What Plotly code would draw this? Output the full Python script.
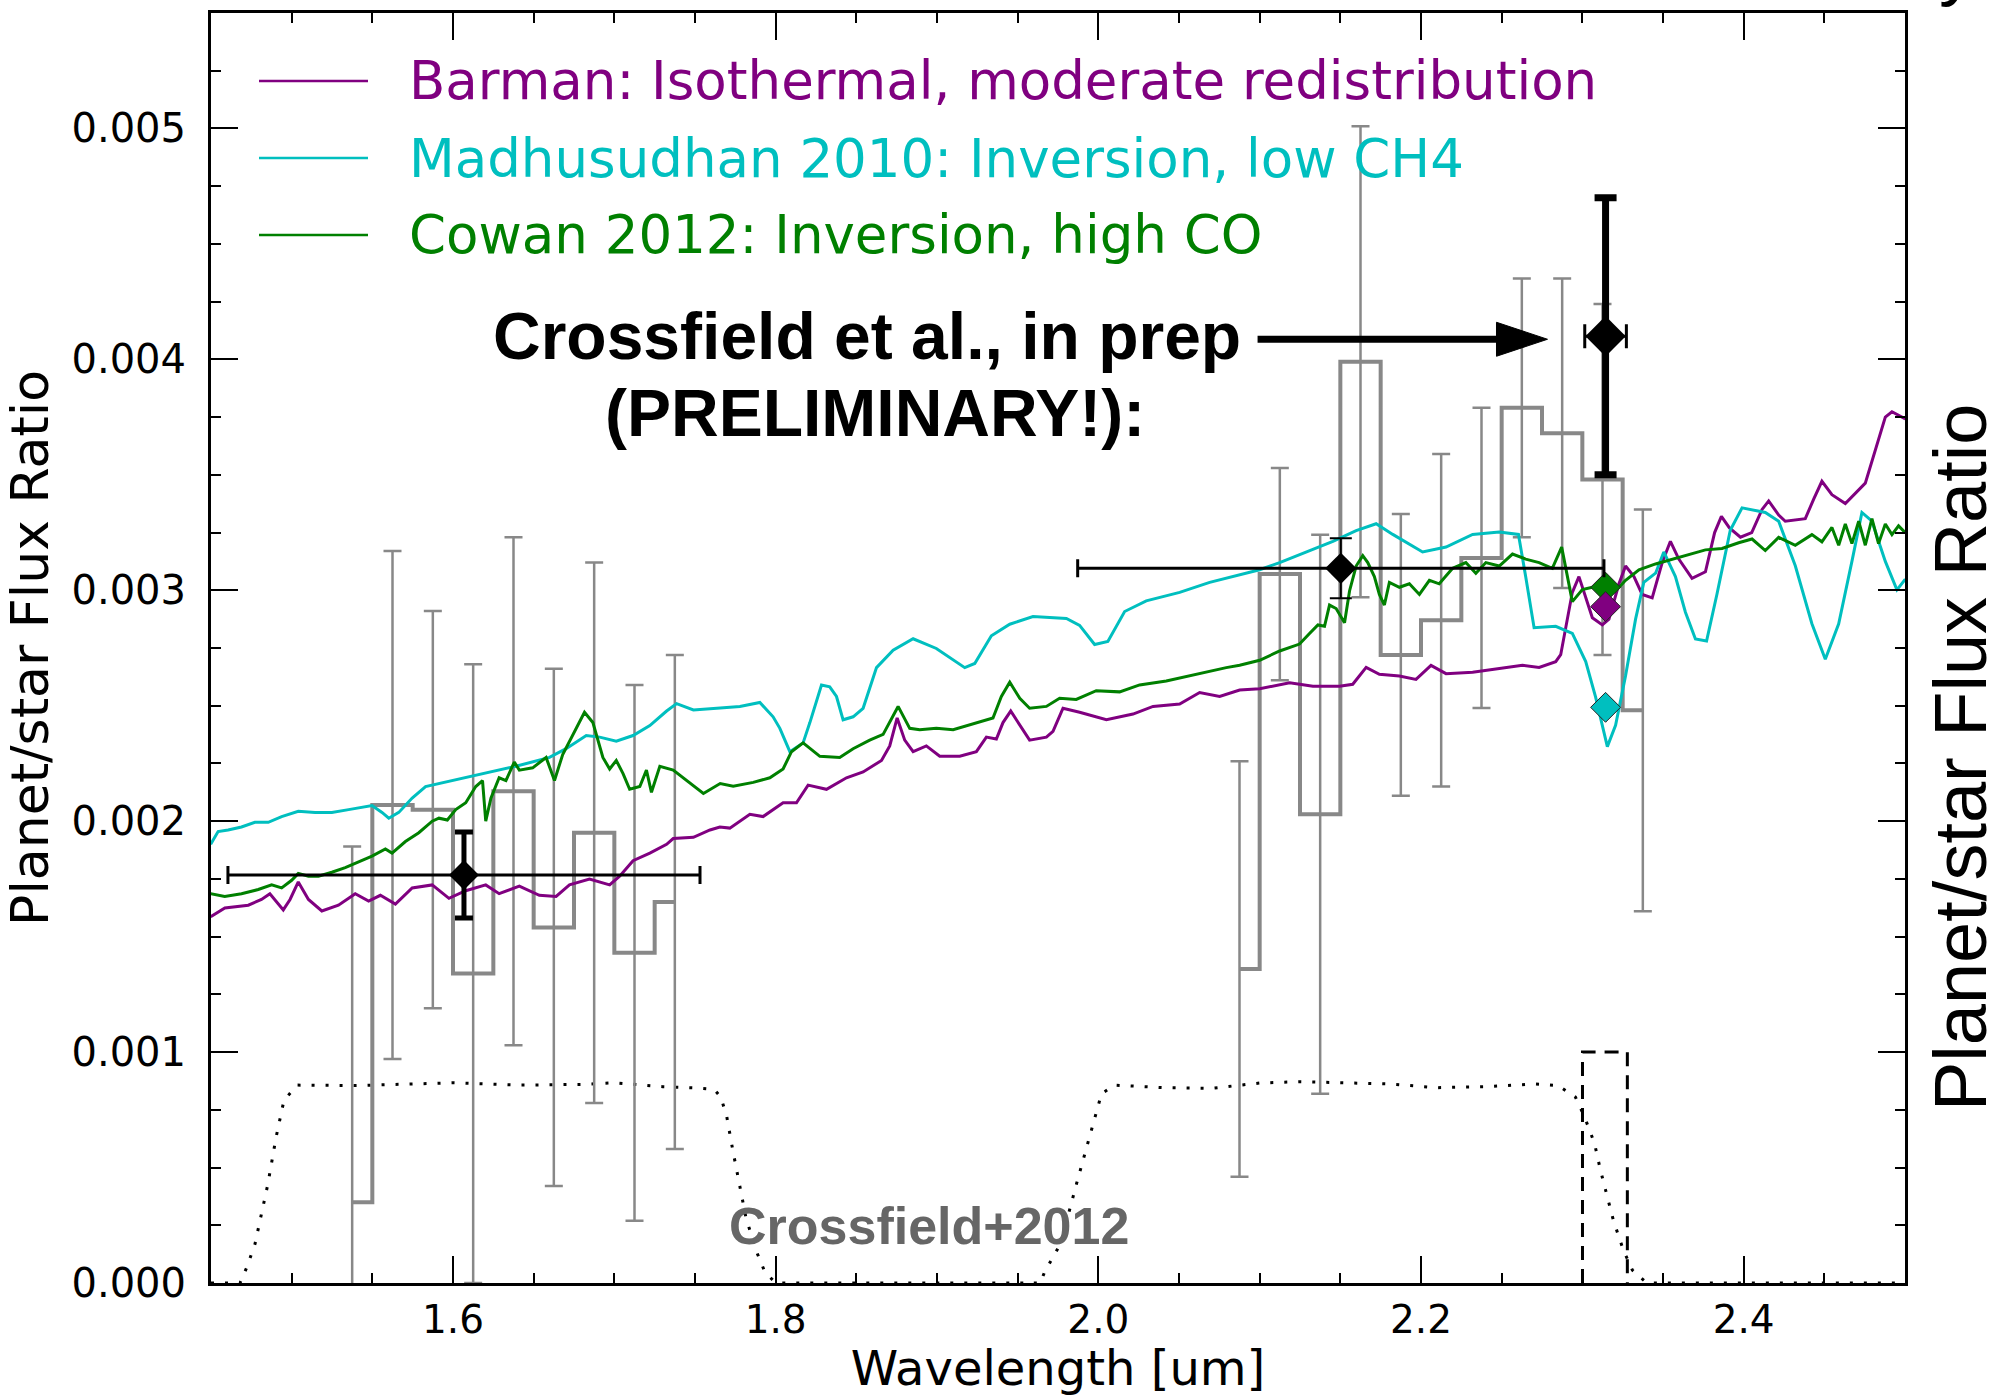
import plotly.graph_objects as go

# ---------------- data ----------------
# Barman: Isothermal, moderate redistribution
barman_wl = [1.4498, 1.4586, 1.4731, 1.4813, 1.4865, 1.4948, 1.4990, 1.5041, 1.5104, 1.5187, 1.5290, 1.5394,
             1.5477, 1.5550, 1.5643, 1.5747, 1.5871, 1.5975, 1.6079, 1.6203, 1.6286, 1.6411, 1.6535, 1.6639,
             1.6722, 1.6846, 1.6971, 1.7033, 1.7116, 1.7220, 1.7324, 1.7365, 1.7490, 1.7593, 1.7654, 1.7716,
             1.7840, 1.7922, 1.8046, 1.8129, 1.8201, 1.8315, 1.8439, 1.8542, 1.8656, 1.8707, 1.8753, 1.8800,
             1.8852, 1.8934, 1.9017, 1.9141, 1.9244, 1.9306, 1.9368, 1.9409, 1.9457, 1.9513, 1.9574, 1.9678,
             1.9719, 1.9781, 1.9884, 2.0050, 2.0215, 2.0339, 2.0504, 2.0628, 2.0752, 2.0876, 2.1000, 2.1186,
             2.1330, 2.1495, 2.1577, 2.1660, 2.1742, 2.1866, 2.1969, 2.2062, 2.2155, 2.2320, 2.2485, 2.2629,
             2.2732, 2.2835, 2.2866, 2.2907, 2.2938, 2.2979, 2.3021, 2.3062, 2.3124, 2.3165, 2.3227, 2.3268,
             2.3320, 2.3371, 2.3433, 2.3495, 2.3546, 2.3598, 2.3680, 2.3763, 2.3820, 2.3862, 2.3912, 2.3980,
             2.4050, 2.4114, 2.4155, 2.4217, 2.4258, 2.4382, 2.4434, 2.4485, 2.4547, 2.4630, 2.4754, 2.4816,
             2.4878, 2.4919, 2.5002]
barman_fr = [0.001586, 0.001624, 0.001636, 0.001661, 0.001686, 0.001616, 0.001661, 0.001737, 0.001661, 0.001611,
             0.001636, 0.001686, 0.001654, 0.001679, 0.001641, 0.001711, 0.001724, 0.001666, 0.001699, 0.001724,
             0.001686, 0.001719, 0.001679, 0.001674, 0.001724, 0.001749, 0.001724, 0.001762, 0.001829, 0.001862,
             0.001900, 0.001925, 0.001930, 0.001962, 0.001975, 0.001970, 0.002030, 0.002020, 0.002080, 0.002080,
             0.002156, 0.002138, 0.002188, 0.002213, 0.002263, 0.002326, 0.002447, 0.002351, 0.002301, 0.002326,
             0.002281, 0.002281, 0.002301, 0.002364, 0.002356, 0.002427, 0.002477, 0.002414, 0.002351, 0.002364,
             0.002389, 0.002489, 0.002472, 0.002439, 0.002464, 0.002497, 0.002507, 0.002557, 0.002540, 0.002568,
             0.002574, 0.002599, 0.002584, 0.002584, 0.002593, 0.002666, 0.002636, 0.002629, 0.002614, 0.002675,
             0.002639, 0.002645, 0.002660, 0.002675, 0.002666, 0.002691, 0.002721, 0.002875, 0.002991, 0.003059,
             0.002967, 0.002881, 0.002850, 0.002875, 0.003028, 0.003105, 0.003059, 0.002982, 0.002967, 0.003120,
             0.003212, 0.003135, 0.003052, 0.003080, 0.003250, 0.003320, 0.003270, 0.003230, 0.003250, 0.003350,
             0.003387, 0.003326, 0.003299, 0.003310, 0.003395, 0.003472, 0.003414, 0.003376, 0.003464, 0.003607,
             0.003750, 0.003773, 0.003742]

# Madhusudhan 2010: Inversion, low CH4
madhu_wl = [1.4498, 1.4544, 1.4606, 1.4689, 1.4772, 1.4855, 1.4938, 1.5041, 1.5145, 1.5249, 1.5353, 1.5498,
            1.5560, 1.5602, 1.5664, 1.5747, 1.5830, 1.5996, 1.6183, 1.6390, 1.6598, 1.6701, 1.6826, 1.6909,
            1.7012, 1.7116, 1.7220, 1.7324, 1.7386, 1.7490, 1.7656, 1.7778, 1.7902, 1.7984, 1.8026, 1.8088,
            1.8170, 1.8212, 1.8284, 1.8335, 1.8377, 1.8418, 1.8480, 1.8542, 1.8625, 1.8728, 1.8852, 1.8996,
            1.9172, 1.9234, 1.9337, 1.9451, 1.9595, 1.9802, 1.9884, 1.9977, 2.0059, 2.0163, 2.0297, 2.0504,
            2.0690, 2.0876, 2.1000, 2.1124, 2.1289, 2.1454, 2.1598, 2.1722, 2.1825, 2.2010, 2.2155, 2.2320,
            2.2485, 2.2604, 2.2649, 2.2701, 2.2835, 2.2938, 2.3021, 2.3082, 2.3155, 2.3206, 2.3268, 2.3330,
            2.3381, 2.3454, 2.3505, 2.3577, 2.3639, 2.3701, 2.3770, 2.3835, 2.3917, 2.3990, 2.4134, 2.4217,
            2.4320, 2.4423, 2.4506, 2.4589, 2.4671, 2.4733, 2.4795, 2.4878, 2.4950, 2.5002]
madhu_fr = [0.001900, 0.001955, 0.001962, 0.001975, 0.001995, 0.001995, 0.002020, 0.002043, 0.002038, 0.002038,
            0.002050, 0.002068, 0.002038, 0.002013, 0.002038, 0.002100, 0.002150, 0.002176, 0.002206, 0.002238,
            0.002276, 0.002314, 0.002371, 0.002364, 0.002346, 0.002371, 0.002414, 0.002477, 0.002509, 0.002482,
            0.002490, 0.002497, 0.002514, 0.002452, 0.002402, 0.002301, 0.002339, 0.002427, 0.002590, 0.002582,
            0.002540, 0.002439, 0.002452, 0.002489, 0.002665, 0.002740, 0.002790, 0.002748, 0.002665, 0.002683,
            0.002803, 0.002853, 0.002886, 0.002878, 0.002848, 0.002765, 0.002778, 0.002908, 0.002954, 0.002991,
            0.003034, 0.003065, 0.003089, 0.003120, 0.003166, 0.003212, 0.003258, 0.003288, 0.003242, 0.003166,
            0.003187, 0.003242, 0.003252, 0.003242, 0.003059, 0.002838, 0.002844, 0.002813, 0.002691, 0.002538,
            0.002323, 0.002415, 0.002630, 0.002875, 0.003034, 0.003074, 0.003166, 0.003059, 0.002905, 0.002789,
            0.002780, 0.002985, 0.003260, 0.003357, 0.003337, 0.003299, 0.003106, 0.002855, 0.002701, 0.002855,
            0.003125, 0.003337, 0.003299, 0.003125, 0.003002, 0.003048]

# Cowan 2012: Inversion, high CO
cowan_wl = [1.4498, 1.4585, 1.4689, 1.4793, 1.4876, 1.4938, 1.5000, 1.5041, 1.5104, 1.5166, 1.5249, 1.5332,
            1.5415, 1.5498, 1.5581, 1.5622, 1.5705, 1.5788, 1.5871, 1.5913, 1.5965, 1.6017, 1.6079, 1.6141,
            1.6183, 1.6203, 1.6235, 1.6286, 1.6328, 1.6380, 1.6411, 1.6494, 1.6577, 1.6629, 1.6680, 1.6743,
            1.6815, 1.6867, 1.6929, 1.6971, 1.7012, 1.7054, 1.7095, 1.7158, 1.7199, 1.7230, 1.7282, 1.7365,
            1.7448, 1.7552, 1.7656, 1.7737, 1.7861, 1.7964, 1.8046, 1.8098, 1.8170, 1.8274, 1.8397, 1.8480,
            1.8583, 1.8666, 1.8759, 1.8831, 1.8893, 1.8996, 1.9100, 1.9223, 1.9347, 1.9399, 1.9451, 1.9513,
            1.9574, 1.9678, 1.9760, 1.9863, 1.9987, 2.0132, 2.0256, 2.0421, 2.0545, 2.0669, 2.0793, 2.0876,
            2.1000, 2.1124, 2.1247, 2.1309, 2.1361, 2.1402, 2.1433, 2.1474, 2.1526, 2.1557, 2.1598, 2.1639,
            2.1670, 2.1711, 2.1742, 2.1773, 2.1804, 2.1866, 2.1928, 2.1990, 2.2052, 2.2113, 2.2196, 2.2278,
            2.2340, 2.2402, 2.2485, 2.2567, 2.2649, 2.2732, 2.2814, 2.2872, 2.2907, 2.2938, 2.3000, 2.3062,
            2.3144, 2.3206, 2.3268, 2.3351, 2.3454, 2.3557, 2.3660, 2.3763, 2.3866, 2.3969, 2.4052, 2.4134,
            2.4217, 2.4320, 2.4423, 2.4485, 2.4547, 2.4589, 2.4630, 2.4671, 2.4713, 2.4754, 2.4795, 2.4836,
            2.4878, 2.4919, 2.4960, 2.5002]
cowan_fr = [0.001686, 0.001674, 0.001686, 0.001704, 0.001724, 0.001711, 0.001744, 0.001774, 0.001762, 0.001762,
            0.001779, 0.001799, 0.001824, 0.001849, 0.001880, 0.001862, 0.001912, 0.001950, 0.002000, 0.002013,
            0.002005, 0.002050, 0.002080, 0.002150, 0.002176, 0.002000, 0.002100, 0.002188, 0.002176, 0.002256,
            0.002221, 0.002231, 0.002276, 0.002176, 0.002289, 0.002376, 0.002472, 0.002427, 0.002276, 0.002226,
            0.002263, 0.002206, 0.002138, 0.002150, 0.002221, 0.002125, 0.002238, 0.002221, 0.002176, 0.002120,
            0.002163, 0.002151, 0.002168, 0.002188, 0.002226, 0.002301, 0.002339, 0.002281, 0.002276, 0.002314,
            0.002351, 0.002376, 0.002497, 0.002402, 0.002396, 0.002402, 0.002396, 0.002422, 0.002447, 0.002540,
            0.002602, 0.002532, 0.002489, 0.002497, 0.002532, 0.002527, 0.002565, 0.002560, 0.002590, 0.002607,
            0.002627, 0.002647, 0.002665, 0.002675, 0.002697, 0.002737, 0.002767, 0.002813, 0.002850, 0.002844,
            0.002936, 0.002921, 0.002859, 0.002997, 0.003105, 0.003150, 0.003120, 0.003059, 0.002982, 0.002936,
            0.003034, 0.003013, 0.003028, 0.002982, 0.003043, 0.003028, 0.003095, 0.003120, 0.003074, 0.003120,
            0.003105, 0.003157, 0.003135, 0.003120, 0.003095, 0.003187, 0.003059, 0.002951, 0.003003, 0.003013,
            0.003013, 0.002997, 0.003043, 0.003089, 0.003114, 0.003135, 0.003157, 0.003175, 0.003181, 0.003206,
            0.003222, 0.003172, 0.003229, 0.003195, 0.003241, 0.003210, 0.003272, 0.003195, 0.003287, 0.003202,
            0.003299, 0.003195, 0.003310, 0.003202, 0.003287, 0.003241, 0.003279, 0.003249]

# Crossfield+2012 spectrophotometry (H and K bands)
h_wl = [1.5375, 1.5625, 1.5875, 1.6125, 1.6375, 1.6625, 1.6875, 1.7125, 1.7375]
h_fr = [0.00035, 0.00207, 0.00205, 0.00134, 0.00213, 0.00154, 0.00195, 0.00143, 0.00165]
h_err = [0.00154, 0.00110, 0.00086, 0.00134, 0.00110, 0.00112, 0.00117, 0.00116, 0.00107]
k_wl = [2.0875, 2.1125, 2.1375, 2.1625, 2.1875, 2.2125, 2.2375, 2.2625, 2.2875, 2.3125, 2.3375]
k_fr = [0.00136, 0.00307, 0.00203, 0.00399, 0.00272, 0.00287, 0.00314, 0.00379, 0.00368, 0.00348, 0.00248]
k_err = [0.00090, 0.00046, 0.00121, 0.00102, 0.00061, 0.00072, 0.00065, 0.00056, 0.00067, 0.00076, 0.00087]

# Filter curves (dotted) and narrow filter (dashed)
hfilt_wl = [1.45, 1.4680, 1.4723, 1.4773, 1.4853, 1.4903, 1.4952, 1.5033, 1.5400, 1.5800, 1.6000, 1.6400,
            1.6800, 1.7000, 1.7300, 1.7500, 1.7620, 1.7660, 1.7697, 1.7734, 1.7777, 1.7815, 1.7877, 1.7933,
            1.8000, 1.9600]
hfilt_fr = [0.0, 0.0, 0.00007, 0.00017, 0.00043, 0.00063, 0.00079, 0.000857, 0.000855, 0.000862, 0.000867,
            0.000857, 0.000860, 0.000867, 0.000850, 0.000845, 0.000838, 0.000805, 0.00072, 0.000576, 0.00043,
            0.000286, 0.000143, 0.000048, 0.0, 0.0]
kfilt_wl = [1.9600, 1.9640, 1.9667, 1.9766, 1.9865, 1.9946, 2.0020, 2.0100, 2.0400, 2.0700, 2.1000, 2.1250,
            2.1500, 2.1800, 2.2100, 2.2400, 2.2700, 2.2850, 2.2957, 2.3013, 2.3075, 2.3112, 2.3156, 2.3193,
            2.3254, 2.3310, 2.3400, 2.5000]
kfilt_fr = [0.0, 0.0, 0.000048, 0.00017, 0.00043, 0.00063, 0.00082, 0.000857, 0.000846, 0.000843, 0.000866,
            0.000872, 0.000866, 0.000862, 0.000846, 0.000850, 0.000862, 0.000855, 0.000805, 0.00072, 0.000606,
            0.00049, 0.00037, 0.00027, 0.000143, 0.000056, 0.0, 0.0]
nb_wl = [2.3001, 2.3001, 2.3279, 2.3279]
nb_fr = [0.0, 0.001, 0.001, 0.0]

# Broadband / narrowband measurements (black) and model values (colored diamonds)
hbb_wl, hbb_fr, hbb_xerr, hbb_yerr = [1.6068], [0.001767], [0.1463], [0.000186]
kbb_wl, kbb_fr, kbb_xerr, kbb_yerr = [2.1503], [0.003095], [0.1631], [0.00013]
nbm_wl, nbm_fr, nbm_xerr, nbm_yerr = [2.3144], [0.0041], [0.0129], [0.0006]
model_nb_wl = [2.3144, 2.3144, 2.3144]
model_nb_fr = [0.003013, 0.002929, 0.002493]   # Cowan, Barman, Madhusudhan

legend_labels = ["Barman: Isothermal, moderate redistribution",
                 "Madhusudhan 2010: Inversion, low CH4",
                 "Cowan 2012: Inversion, high CO"]

# ---------------- styling ----------------
PURPLE = "#800080"
CYAN = "#00BFBF"
GREEN = "#008000"
GRAY = "#888888"
W, H = 2003, 1396
L, R, T, B = 211, 1905, 13, 1283   # plot-area pixel bounds
X0, X1, Y0, Y1 = 1.45, 2.5, 0.0, 0.0055


def px(xp):
    return (xp - L) / (R - L)


def py(yp):
    return (B - yp) / (B - T)


fig = go.Figure()

# filters
fig.add_trace(go.Scatter(x=hfilt_wl, y=hfilt_fr, mode="lines",
                         line=dict(color="black", width=3, dash="3px,11px"), hoverinfo="skip"))
fig.add_trace(go.Scatter(x=kfilt_wl, y=kfilt_fr, mode="lines",
                         line=dict(color="black", width=3, dash="3px,11px"), hoverinfo="skip"))
fig.add_trace(go.Scatter(x=nb_wl, y=nb_fr, mode="lines",
                         line=dict(color="black", width=3, dash="14px,9px"), hoverinfo="skip"))

# Crossfield+2012 steps and error bars
for wl, fr, er in ((h_wl, h_fr, h_err), (k_wl, k_fr, k_err)):
    fig.add_trace(go.Scatter(x=wl, y=fr, mode="lines", line=dict(color=GRAY, width=4, shape="hvh")))
    fig.add_trace(go.Scatter(x=wl, y=fr, mode="markers", marker=dict(size=1, color="rgba(0,0,0,0)"),
                             error_y=dict(type="data", array=er, color=GRAY, thickness=2.5, width=9)))

# models
fig.add_trace(go.Scatter(x=barman_wl, y=barman_fr, mode="lines", line=dict(color=PURPLE, width=3),
                         name=legend_labels[0]))
fig.add_trace(go.Scatter(x=madhu_wl, y=madhu_fr, mode="lines", line=dict(color=CYAN, width=3),
                         name=legend_labels[1]))
fig.add_trace(go.Scatter(x=cowan_wl, y=cowan_fr, mode="lines", line=dict(color=GREEN, width=3),
                         name=legend_labels[2]))

# model values in the narrow band
fig.add_trace(go.Scatter(x=model_nb_wl, y=model_nb_fr, mode="markers",
                         marker=dict(symbol="diamond", size=23, color=[GREEN, PURPLE, CYAN],
                                     line=dict(color="#222222", width=1))))

# black measurements
fig.add_trace(go.Scatter(x=hbb_wl, y=hbb_fr, mode="markers",
                         marker=dict(symbol="diamond", size=23, color="black"),
                         error_x=dict(type="data", array=hbb_xerr, color="black", thickness=3, width=9),
                         error_y=dict(type="data", array=hbb_yerr, color="black", thickness=5, width=9)))
fig.add_trace(go.Scatter(x=kbb_wl, y=kbb_fr, mode="markers",
                         marker=dict(symbol="diamond", size=24, color="black"),
                         error_x=dict(type="data", array=kbb_xerr, color="black", thickness=3, width=9),
                         error_y=dict(type="data", array=kbb_yerr, color="black", thickness=2, width=11)))
fig.add_trace(go.Scatter(x=nbm_wl, y=nbm_fr, mode="markers",
                         marker=dict(symbol="diamond", size=31, color="black"),
                         error_x=dict(type="data", array=nbm_xerr, color="black", thickness=3, width=12),
                         error_y=dict(type="data", array=nbm_yerr, color="black", thickness=7, width=11)))

# ---------------- legend (drawn manually to match) ----------------
legend_colors = [PURPLE, CYAN, GREEN]
legend_rows_y = [81, 158, 235]
shapes = []
annotations = []
for lab, col, yy in zip(legend_labels, legend_colors, legend_rows_y):
    shapes.append(dict(type="line", xref="paper", yref="paper", x0=px(259), x1=px(368), y0=py(yy), y1=py(yy),
                       line=dict(color=col, width=2.5)))
    annotations.append(dict(xref="paper", yref="paper", x=px(407), y=py(yy), xanchor="left", yanchor="middle",
                            text=lab, showarrow=False, font=dict(family="DejaVu Sans", size=53, color=col)))

# arrow pointing at the narrow-band point
arrow_y = 0.004087
arrow_tail, arrow_tip = 2.0987, 2.2784
head_len = 51 / (R - L) * (X1 - X0)
head_half = 17 / (B - T) * (Y1 - Y0)
shapes.append(dict(type="line", xref="x", yref="y", x0=arrow_tail, x1=arrow_tip - head_len * 0.9,
                   y0=arrow_y, y1=arrow_y, line=dict(color="black", width=7)))
shapes.append(dict(type="path", xref="x", yref="y", fillcolor="black", line=dict(color="black", width=1),
                   path=f"M{arrow_tip - head_len},{arrow_y - head_half} L{arrow_tip},{arrow_y} "
                        f"L{arrow_tip - head_len},{arrow_y + head_half} Z"))

annotations += [
    dict(xref="paper", yref="paper", x=px(867), y=py(336), xanchor="center", yanchor="middle",
         text="<b>Crossfield et al., in prep</b>", showarrow=False,
         font=dict(family="Liberation Sans", size=66, color="black")),
    dict(xref="paper", yref="paper", x=px(875), y=py(413), xanchor="center", yanchor="middle",
         text="<b>(PRELIMINARY!):</b>", showarrow=False,
         font=dict(family="Liberation Sans", size=66, color="black")),
    dict(xref="paper", yref="paper", x=px(929), y=py(1226), xanchor="center", yanchor="middle",
         text="<b>Crossfield+2012</b>", showarrow=False,
         font=dict(family="Liberation Sans", size=52, color="#666666")),
    dict(xref="paper", yref="paper", x=px(1961), y=py(757), xanchor="center", yanchor="middle",
         text="Planet/star Flux Ratio", textangle=-90, showarrow=False,
         font=dict(family="Liberation Sans", size=74, color="black")),
    dict(xref="paper", yref="paper", x=px(1958), y=py(10), xanchor="center", yanchor="bottom",
         text="y", showarrow=False, font=dict(family="Liberation Sans", size=75, color="black")),
]

axis_common = dict(ticks="inside", ticklen=27, tickwidth=2, tickcolor="black", showline=True,
                   linecolor="black", linewidth=3, mirror="allticks", showgrid=False, zeroline=False,
                   automargin=False)

fig.update_layout(
    width=W, height=H,
    margin=dict(l=L, r=W - R, t=T, b=H - B, autoexpand=False),
    paper_bgcolor="white", plot_bgcolor="white",
    showlegend=False,
    font=dict(family="DejaVu Sans", size=40, color="black"),
    shapes=shapes, annotations=annotations,
    xaxis=dict(range=[X0, X1], tickmode="linear", tick0=1.6, dtick=0.2, tickformat=".1f",
               minor=dict(tick0=1.6, dtick=0.05, ticks="inside", ticklen=10, tickwidth=2, tickcolor="black",
                          showgrid=False),
               tickfont=dict(family="DejaVu Sans", size=39, color="black"),
               title=dict(text="Wavelength [um]", font=dict(family="DejaVu Sans", size=48), standoff=11),
               ticklabelstandoff=0, **axis_common),
    yaxis=dict(range=[Y0, Y1], tickmode="linear", tick0=0, dtick=0.001, tickformat=".3f",
               minor=dict(tick0=0, dtick=0.00025, ticks="inside", ticklen=10, tickwidth=2, tickcolor="black",
                          showgrid=False),
               tickfont=dict(family="DejaVu Sans", size=40, color="black"),
               title=dict(text="Planet/star Flux Ratio", font=dict(family="DejaVu Sans", size=52), standoff=12),
               ticklabelstandoff=14, **axis_common),
)

fig.write_html("out.html")
